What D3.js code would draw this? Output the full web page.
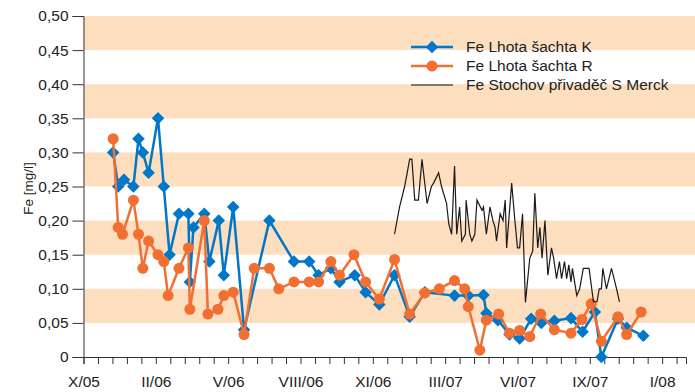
<!DOCTYPE html>
<html>
<head>
<meta charset="utf-8">
<script src="https://cdn.jsdelivr.net/npm/d3@7"></script>
<style>
  html, body { margin: 0; padding: 0; background: #fff; }
  svg { display: block; font-family: "Liberation Sans", Arial, sans-serif; }
</style>
</head>
<body>
<svg width="695" height="392"></svg>
<script>
const width = 695;
const height = 392;
const margin = {top: 16, right: 9, bottom: 35, left: 83.5};

// Fe Lhota šachta K
const datesK = ['2005-12-05', '2005-12-12', '2005-12-20', '2006-01-02', '2006-01-09', '2006-01-15',
  '2006-01-23', '2006-02-05', '2006-02-13', '2006-02-21', '2006-03-06', '2006-03-19', '2006-03-21',
  '2006-03-26', '2006-04-10', '2006-04-17', '2006-04-30', '2006-05-07', '2006-05-20', '2006-06-04',
  '2006-07-09', '2006-08-12', '2006-09-02', '2006-09-15', '2006-10-02', '2006-10-14', '2006-11-04',
  '2006-11-19', '2006-12-08', '2006-12-29', '2007-01-19', '2007-02-09', '2007-03-22', '2007-04-10',
  '2007-05-01', '2007-05-05', '2007-05-21', '2007-06-06', '2007-06-20', '2007-07-06', '2007-07-20',
  '2007-08-07', '2007-08-30', '2007-09-15', '2007-10-02', '2007-10-11', '2007-11-03', '2007-11-15',
  '2007-12-08'];
const valuesK = [0.30, 0.25, 0.26, 0.25, 0.32, 0.30,
  0.27, 0.35, 0.25, 0.15, 0.21, 0.21, 0.11,
  0.19, 0.21, 0.14, 0.20, 0.12, 0.22, 0.04,
  0.20, 0.14, 0.14, 0.12, 0.13, 0.11, 0.12,
  0.095, 0.077, 0.12, 0.059, 0.095, 0.09, 0.09,
  0.091, 0.064, 0.054, 0.033, 0.027, 0.056, 0.05,
  0.053, 0.057, 0.037, 0.066, 0.0, 0.056, 0.043,
  0.031];

// Fe Lhota šachta R
const datesR = ['2005-12-05', '2005-12-12', '2005-12-18', '2006-01-02', '2006-01-09', '2006-01-15',
  '2006-01-23', '2006-02-05', '2006-02-13', '2006-02-19', '2006-03-06', '2006-03-19', '2006-03-21',
  '2006-04-10', '2006-04-15', '2006-04-29', '2006-05-07', '2006-05-20', '2006-06-04', '2006-06-18',
  '2006-07-09', '2006-07-22', '2006-08-12', '2006-09-02', '2006-09-15', '2006-10-02', '2006-10-14',
  '2006-11-03', '2006-11-19', '2006-12-08', '2006-12-29', '2007-01-19', '2007-02-09', '2007-03-01',
  '2007-03-22', '2007-04-05', '2007-04-10', '2007-04-26', '2007-05-05', '2007-05-22', '2007-06-06',
  '2007-06-20', '2007-07-04', '2007-07-19', '2007-08-07', '2007-08-30', '2007-09-14', '2007-09-27',
  '2007-10-11', '2007-11-03', '2007-11-15', '2007-12-05'];
const valuesR = [0.32, 0.19, 0.18, 0.23, 0.18, 0.13,
  0.17, 0.15, 0.14, 0.09, 0.13, 0.16, 0.07,
  0.20, 0.063, 0.07, 0.09, 0.095, 0.033, 0.13,
  0.13, 0.10, 0.11, 0.11, 0.11, 0.14, 0.12,
  0.15, 0.11, 0.085, 0.143, 0.063, 0.094, 0.10,
  0.112, 0.10, 0.074, 0.01, 0.054, 0.063, 0.035,
  0.039, 0.03, 0.063, 0.04, 0.035, 0.055, 0.078,
  0.023, 0.059, 0.033, 0.066];

// Fe Stochov přivaděč S Merck
const datesS = ['2006-12-29', '2007-01-05', '2007-01-12', '2007-01-19', '2007-01-22', '2007-01-26',
  '2007-01-31', '2007-02-05', '2007-02-12', '2007-02-18', '2007-02-21', '2007-02-28', '2007-03-04',
  '2007-03-11', '2007-03-14', '2007-03-18', '2007-03-22', '2007-03-25', '2007-03-29', '2007-04-01',
  '2007-04-06', '2007-04-07', '2007-04-12', '2007-04-15', '2007-04-19', '2007-04-22', '2007-04-29',
  '2007-05-01', '2007-05-05', '2007-05-10', '2007-05-14', '2007-05-17', '2007-05-19', '2007-05-24',
  '2007-05-28', '2007-05-31', '2007-06-02', '2007-06-09', '2007-06-13', '2007-06-17', '2007-06-20',
  '2007-06-24', '2007-06-28', '2007-07-04', '2007-07-08', '2007-07-11', '2007-07-15', '2007-07-18',
  '2007-07-21', '2007-07-25', '2007-07-29', '2007-08-03', '2007-08-06', '2007-08-10', '2007-08-14',
  '2007-08-17', '2007-08-21', '2007-08-24', '2007-08-27', '2007-08-30', '2007-09-01', '2007-09-07',
  '2007-09-11', '2007-09-16', '2007-09-24', '2007-09-30', '2007-10-05', '2007-10-08', '2007-10-11',
  '2007-10-13', '2007-10-18', '2007-10-25', '2007-11-01', '2007-11-05'];
const valuesS = [0.18, 0.22, 0.25, 0.29, 0.29, 0.23,
  0.23, 0.29, 0.225, 0.25, 0.255, 0.27, 0.25,
  0.225, 0.195, 0.18, 0.28, 0.18, 0.22, 0.17,
  0.18, 0.23, 0.18, 0.17, 0.18, 0.23, 0.215,
  0.22, 0.18, 0.22, 0.20, 0.19, 0.17, 0.21,
  0.20, 0.23, 0.16, 0.255, 0.205, 0.16, 0.16,
  0.21, 0.08, 0.145, 0.155, 0.24, 0.16, 0.19,
  0.145, 0.20, 0.12, 0.16, 0.145, 0.115, 0.14,
  0.115, 0.14, 0.115, 0.135, 0.11, 0.13, 0.09,
  0.10, 0.13, 0.13, 0.081, 0.081, 0.10, 0.10,
  0.13, 0.10, 0.13, 0.10, 0.081];

const seriesNames = ['Fe Lhota šachta K', 'Fe Lhota šachta R', 'Fe Stochov přivaděč S Merck'];
const xTickLabels = ['X/05', 'II/06', 'V/06', 'VIII/06', 'XI/06', 'III/07', 'VI/07', 'IX/07', 'I/08'];
const yTicks = [0, 0.05, 0.10, 0.15, 0.20, 0.25, 0.30, 0.35, 0.40, 0.45, 0.50];
const yTitle = 'Fe [mg/l]';

const blue = '#0077c8';
const orange = '#f26f32';
const band = '#fddfc0';
const axisColor = '#333';

const parse = d3.timeParse('%Y-%m-%d');
const toPoints = (dates, values) => dates.map((d, i) => ({date: parse(d), value: values[i]}));
const dataK = toPoints(datesK, valuesK);
const dataR = toPoints(datesR, valuesR);
const dataS = toPoints(datesS, valuesS);

const start = new Date(2005, 9, 25);
const end = new Date(2008, 1, 5);

const x = d3.scaleTime().domain([start, end]).range([margin.left, width - margin.right]);
const y = d3.scaleLinear().domain([0, 0.5]).range([357, margin.top]);

// minor tick every 20 days, label on every 5th one
const xTickValues = d3.range(0, 833, 20).map(d => d3.timeDay.offset(start, d));

const svg = d3.select('svg');

// horizontal bands
svg.append('g')
    .selectAll('rect')
    .data(d3.range(0, 5))
    .join('rect')
    .attr('x', margin.left)
    .attr('width', width - margin.left)
    .attr('y', i => y(0.5 - i * 0.1))
    .attr('height', i => y(0.45 - i * 0.1) - y(0.5 - i * 0.1))
    .attr('fill', band);

const xAxis = g => g.attr('transform', `translate(0,${y(0)})`)
    .call(d3.axisBottom(x)
        .tickValues(xTickValues)
        .tickSize(7)
        .tickPadding(12)
        .tickFormat((d, i) => i % 5 === 0 ? xTickLabels[i / 5] : ''))
    .call(g => g.selectAll('.tick text').attr('font-size', 15.5).attr('fill', '#222').attr('font-family', null))
    .call(g => g.selectAll('line, path').attr('stroke', axisColor));

const yAxis = g => g.attr('transform', `translate(${margin.left},0)`)
    .call(d3.axisLeft(y)
        .tickValues(yTicks)
        .tickSize(11)
        .tickPadding(4)
        .tickFormat(d => d === 0 ? '0' : d3.format('.2f')(d).replace('.', ',')))
    .call(g => g.selectAll('.tick text').attr('font-size', 15.5).attr('fill', '#222').attr('font-family', null))
    .call(g => g.selectAll('line, path').attr('stroke', axisColor));

svg.append('g').call(xAxis);
svg.append('g').call(yAxis);

svg.append('text')
    .attr('transform', `translate(33,${(y(0) + y(0.5)) / 2 + 2}) rotate(-90)`)
    .attr('text-anchor', 'middle')
    .attr('font-size', 13.5)
    .attr('fill', '#222')
    .text(yTitle);

const line = d3.line().x(d => x(d.date)).y(d => y(d.value));
const diamond = d3.symbol().type(d3.symbolDiamond2).size(100);

// K
svg.append('path')
    .datum(dataK)
    .attr('fill', 'none')
    .attr('stroke', blue)
    .attr('stroke-width', 2.5)
    .attr('d', line);
svg.append('g')
    .attr('fill', blue)
    .selectAll('path')
    .data(dataK)
    .join('path')
    .attr('transform', d => `translate(${x(d.date)},${y(d.value)})`)
    .attr('d', diamond);

// R
svg.append('path')
    .datum(dataR)
    .attr('fill', 'none')
    .attr('stroke', orange)
    .attr('stroke-width', 2.5)
    .attr('d', line);
svg.append('g')
    .attr('fill', orange)
    .selectAll('circle')
    .data(dataR)
    .join('circle')
    .attr('cx', d => x(d.date))
    .attr('cy', d => y(d.value))
    .attr('r', 5.5);

// S
svg.append('path')
    .datum(dataS)
    .attr('fill', 'none')
    .attr('stroke', '#1a1a1a')
    .attr('stroke-width', 1.2)
    .attr('stroke-linejoin', 'miter')
    .attr('d', line);

// legend
const legend = svg.append('g').attr('transform', 'translate(411,47)');
const rows = legend.selectAll('g')
    .data(seriesNames)
    .join('g')
    .attr('transform', (d, i) => `translate(0,${i * 19})`);
rows.append('line')
    .attr('x1', 0).attr('x2', 42)
    .attr('stroke', (d, i) => [blue, orange, '#555'][i])
    .attr('stroke-width', (d, i) => i < 2 ? 2.5 : 1.5);
rows.filter((d, i) => i === 0).append('path')
    .attr('transform', 'translate(21,0)')
    .attr('fill', blue)
    .attr('d', diamond);
rows.filter((d, i) => i === 1).append('circle')
    .attr('cx', 21)
    .attr('r', 5.5)
    .attr('fill', orange);
rows.append('text')
    .attr('x', 55)
    .attr('dy', '0.35em')
    .attr('font-size', 15.5)
    .attr('fill', '#222')
    .text(d => d);
</script>
</body>
</html>
